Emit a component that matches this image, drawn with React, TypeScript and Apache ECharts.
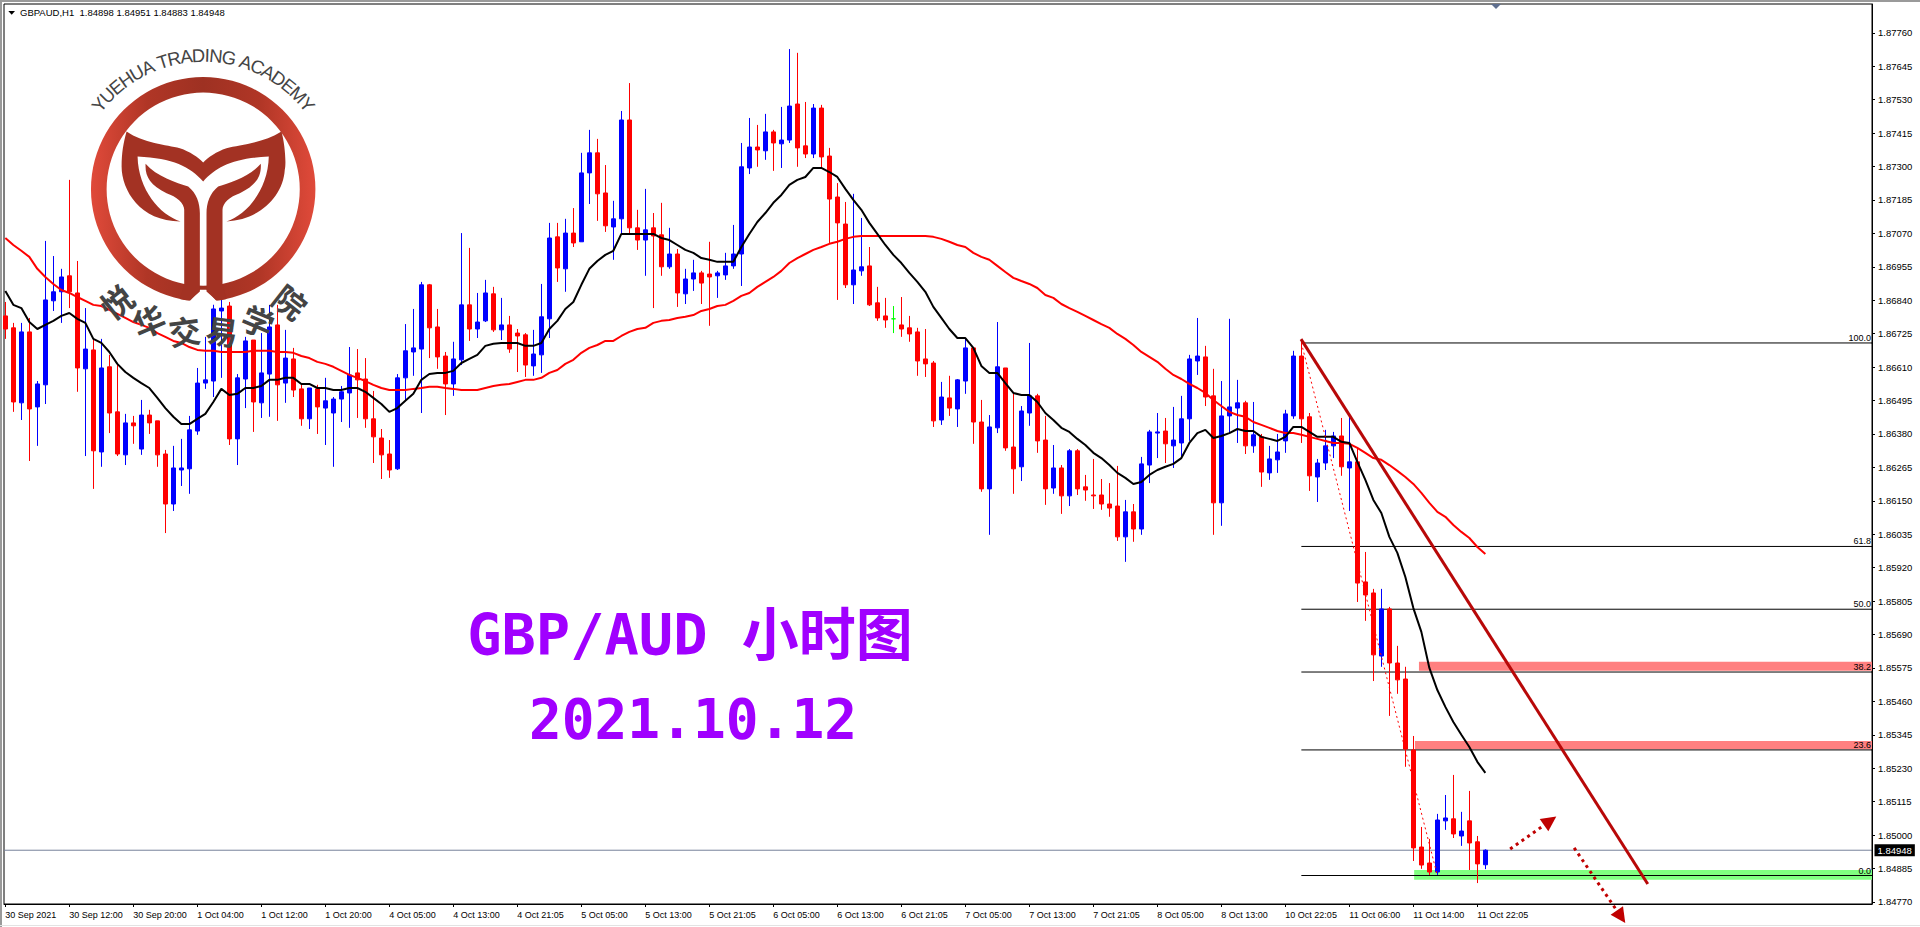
import React, { useEffect, useRef } from "react";
import * as echarts from "echarts";

// All chart values. Price = 1 + points / 100000.
const highPts = [
  86834,86762,86762,86779,86562,87044,86992,86948,87254,86975,
  86813,86707,86707,86652,86624,86449,86442,86497,86463,86425,
  86325,86339,86363,86442,86607,86714,86841,86841,86834,86586,
  86714,86703,86727,86824,86824,86738,86676,86549,86538,86549,
  86573,86507,86545,86679,86672,86641,86528,86397,86359,86586,
  86758,86810,86903,86896,86810,86662,86697,87071,87020,86865,
  86910,86886,86848,86786,86741,86727,86738,86896,87106,87106,
  87120,87157,87347,87426,87395,87305,87182,87491,87587,87151,
  87223,87140,87175,87089,87016,86948,86979,86941,87041,86941,
  87003,87099,87381,87467,87443,87481,87426,87505,87704,87691,
  87522,87515,87512,87364,87243,87178,87206,87123,87023,86886,
  86848,86820,86851,86786,86745,86741,86631,86559,86580,86569,
  86710,86679,86497,86445,86765,86607,86521,86476,86693,86518,
  86442,86342,86273,86328,86328,86239,86294,86225,86211,86270,
  86153,86139,86301,86394,86452,86435,86473,86511,86652,86779,
  86683,86604,86562,86776,86566,86494,86490,86380,86339,86380,
  86463,86666,86703,86452,86294,86394,86387,86435,86442,86332,
  85974,85847,85847,85785,85651,85579,85341,85028,84987,85073,
  85138,85207,85080,85152,84997,84951,
];
const lowPts = [
  86707,86456,86428,86287,86339,86483,86803,86762,86813,86525,
  86304,86191,86267,86383,86304,86273,86346,86308,86380,86267,
  86039,86115,86201,86174,86377,86535,86507,86573,86342,86273,
  86469,86387,86435,86439,86425,86487,86507,86408,86397,86380,
  86342,86267,86421,86401,86435,86401,86280,86225,86229,86256,
  86497,86580,86452,86641,86604,86445,86511,86617,86700,86710,
  86765,86731,86703,86659,86593,86576,86580,86590,86710,86903,
  86869,87023,87041,87171,87113,87075,86979,87068,87068,87013,
  86924,86813,86924,86948,86817,86827,86872,86827,86752,86848,
  86910,86948,86889,87274,87299,87323,87285,87295,87381,87299,
  87329,87329,87295,87037,86841,86882,86827,86924,86820,86769,
  86745,86727,86714,86697,86580,86576,86404,86411,86442,86404,
  86518,86346,86181,86033,86383,86322,86174,86218,86408,86315,
  86136,86174,86105,86132,86170,86150,86122,86119,86095,86012,
  85940,86009,86033,86211,86297,86280,86263,86294,86356,86583,
  86476,86033,86064,86383,86349,86311,86315,86198,86222,86246,
  86315,86432,86349,86184,86146,86256,86297,86236,86115,85802,
  85737,85530,85579,85410,85486,85235,84911,84884,84863,84863,
  85018,84990,84963,84880,84835,84883,
];
const openPts = [
  86786,86745,86487,86731,86473,86549,86838,86869,86924,86865,
  86604,86669,86318,86611,86456,86308,86418,86328,86445,86425,
  86311,86139,86256,86260,86390,86555,86562,86803,86820,86363,
  86569,86703,86487,86586,86755,86555,86638,86535,86432,86535,
  86469,86452,86500,86521,86590,86569,86432,86366,86311,86260,
  86573,86662,86672,86893,86748,86648,86552,86635,86824,86741,
  86769,86862,86738,86755,86727,86721,86614,86652,86776,87058,
  86948,87071,87041,87278,87347,87209,87092,87120,87460,87089,
  87047,87089,87065,86955,86999,86862,86913,86934,86930,86924,
  86927,86958,86999,87295,87367,87354,87419,87378,87391,87515,
  87371,87343,87501,87336,87195,87102,86893,86941,86958,86831,
  86786,86776,86755,86745,86731,86638,86624,86428,86504,86466,
  86562,86676,86421,86191,86401,86607,86335,86267,86452,86511,
  86359,86194,86263,86167,86322,86198,86170,86170,86139,86132,
  86026,86112,86053,86273,86383,86390,86339,86349,86432,86631,
  86645,86511,86143,86442,86469,86487,86339,86370,86246,86291,
  86356,86442,86648,86439,86232,86280,86339,86373,86263,86284,
  85871,85833,85616,85778,85592,85537,85293,84959,84904,84873,
  85049,85056,84997,85049,84977,84898,
];
const closePts = [
  86741,86490,86731,86466,86552,86841,86869,86920,86869,86607,
  86672,86322,86607,86452,86311,86418,86408,86445,86418,86308,
  86139,86263,86263,86394,86555,86566,86810,86813,86363,86573,
  86700,86490,86590,86748,86549,86641,86531,86432,86538,86473,
  86494,86500,86525,86583,86566,86432,86370,86308,86256,86573,
  86666,86676,86893,86745,86645,86552,86638,86824,86741,86765,
  86865,86738,86755,86672,86717,86617,86655,86783,87054,86951,
  87071,87037,87278,87347,87206,87096,87120,87460,87089,87047,
  87082,87061,86955,86999,86865,86913,86934,86899,86920,86934,
  86958,86999,87299,87367,87357,87419,87381,87391,87508,87364,
  87343,87501,87333,87188,87106,86893,86944,86955,86824,86779,
  86772,86776,86741,86724,86631,86621,86425,86507,86469,86566,
  86676,86421,86191,86404,86611,86332,86260,86459,86511,86356,
  86191,86263,86167,86322,86191,86187,86167,86139,86125,86026,
  86112,86053,86277,86387,86387,86346,86359,86432,86638,86648,
  86507,86143,86442,86473,86487,86339,86377,86249,86294,86318,
  86449,86648,86432,86236,86280,86339,86373,86267,86284,85867,
  85826,85620,85778,85592,85534,85296,84956,84897,84873,85052,
  85059,85004,85014,84973,84901,84948,
];
const blackMaPts = [
  86872,86824,86813,86765,86741,86755,86769,86786,86796,86776,
  86762,86707,86693,86662,86621,86593,86573,86555,86538,86504,
  86469,86439,86414,86414,86432,86449,86490,86535,86514,86518,
  86538,86538,86545,86566,86566,86573,86573,86552,86552,86538,
  86538,86531,86531,86538,86538,86525,86504,86483,86456,86469,
  86494,86518,86566,86586,86590,86590,86597,86624,86638,86652,
  86683,86690,86693,86693,86693,86683,86683,86693,86741,86769,
  86810,86834,86893,86948,86975,86996,87010,87068,87068,87068,
  87068,87068,87054,87047,87030,87013,87003,86985,86979,86972,
  86972,86972,87023,87068,87109,87140,87175,87202,87237,87254,
  87264,87295,87295,87281,87264,87223,87185,87151,87106,87068,
  87030,86996,86968,86934,86903,86869,86817,86779,86741,86710,
  86710,86676,86614,86590,86590,86555,86521,86514,86514,86490,
  86452,86428,86401,86387,86363,86342,86315,86297,86273,86246,
  86229,86208,86215,86239,86256,86267,86277,86297,86349,86383,
  86394,86366,86373,86383,86397,86390,86390,86370,86363,86356,
  86370,86404,86404,86387,86370,86370,86370,86353,86349,86284,
  86222,86153,86108,86026,85971,85888,85781,85699,85575,85499,
  85441,85389,85345,85303,85252,85214,
];
const redMaPts = [
  87054,87030,87010,86989,86948,86920,86896,86875,86865,86851,
  86838,86824,86820,86807,86793,86779,86765,86755,86745,86727,
  86714,86700,86693,86679,86669,86666,86666,86662,86662,86662,
  86662,86666,86666,86666,86662,86662,86659,86648,86641,86628,
  86621,86611,86597,86583,86573,86562,86549,86538,86531,86531,
  86531,86535,86538,86542,86542,86538,86535,86531,86531,86531,
  86538,86545,86549,86552,86559,86566,86566,86573,86590,86600,
  86621,86635,86659,86676,86686,86700,86700,86717,86731,86741,
  86745,86762,86769,86772,86779,86783,86789,86803,86810,86820,
  86824,86838,86855,86865,86886,86903,86920,86941,86968,86985,
  86999,87013,87023,87034,87041,87051,87058,87061,87061,87061,
  87061,87061,87061,87061,87061,87061,87058,87051,87041,87030,
  87023,87003,86989,86979,86958,86937,86917,86906,86896,86882,
  86858,86848,86827,86813,86800,86786,86772,86758,86745,86724,
  86707,86686,86662,86645,86628,86604,86583,86569,86552,86538,
  86521,86497,86476,86456,86445,86439,86421,86411,86401,86390,
  86383,86383,86377,86370,86363,86356,86349,86349,86346,86332,
  86315,86297,86291,86273,86253,86232,86208,86177,86143,86112,
  86095,86067,86043,86022,85991,85967,
];
const xTickLabels = [
  "30 Sep 2021","30 Sep 12:00","30 Sep 20:00","1 Oct 04:00","1 Oct 12:00","1 Oct 20:00",
  "4 Oct 05:00","4 Oct 13:00","4 Oct 21:05","5 Oct 05:00","5 Oct 13:00","5 Oct 21:05",
  "6 Oct 05:00","6 Oct 13:00","6 Oct 21:05","7 Oct 05:00","7 Oct 13:00","7 Oct 21:05",
  "8 Oct 05:00","8 Oct 13:00","10 Oct 22:05","11 Oct 06:00","11 Oct 14:00","11 Oct 22:05",
];
const yTickLabels = [
  "1.87760","1.87645","1.87530","1.87415","1.87300","1.87185","1.87070","1.86955","1.86840",
  "1.86725","1.86610","1.86495","1.86380","1.86265","1.86150","1.86035","1.85920","1.85805",
  "1.85690","1.85575","1.85460","1.85345","1.85230","1.85115","1.85000","1.84885","1.84770",
];
const fibNames = ["100.0", "61.8", "50.0", "38.2", "23.6", "0.0"];
const fibPts = [86693, 85993, 85777, 85561, 85293, 84861];
const currentPricePts = 84948;
const zonePts = [
  { from: 176.7, top: 85596, bottom: 85565, color: "#ff8080" },
  { from: 176.2, top: 85324, bottom: 85295, color: "#ff8080" },
  { from: 176.1, top: 84880, bottom: 84846, color: "#80ff80" },
];
const trendLine = [[161.96, 86706], [205.3, 84832]];
const fibBase = [[162, 86693], [179, 84861]];
const upArrow = [[188.1, 84952], [193.1, 85049]];
const downArrow = [[196.1, 84956], [201.96, 84719]];

const price = (pts: number) => 1 + pts / 100000;
const X_MIN = -0.166;
const X_MAX = 233.33;
const Y_MIN = 1.84763;
const Y_MAX = 1.87859;
const LABEL_FONT = "'Liberation Sans', sans-serif";

echarts.graphic.registerShape("logoTail", echarts.graphic.extendPath(
  "M200,305 C250,340 320,345 360,355 C390,365 415,382 430,398 C445,382 470,365 500,355 C540,345 610,340 665,305 " +
  "C675,340 680,400 675,420 C670,500 600,570 500,575 C560,555 625,480 627,380 C520,385 470,410 430,455 " +
  "C390,410 340,385 233,380 C235,480 300,555 362,575 C240,575 185,480 185,410 C185,370 190,340 200,305 Z", {}));
echarts.graphic.registerShape("logoLeafLeft", echarts.graphic.extendPath(
  "M257,402 C290,440 350,460 385,470 C410,490 420,520 420,550 L420,785 L392,810 C385,813 378,812 360,808 " +
  "L373,762 L373,540 C373,520 350,500 320,490 C270,465 255,440 257,402 Z", {}));
echarts.graphic.registerShape("logoLeafRight", echarts.graphic.extendPath(
  "M603,402 C570,440 510,460 475,470 C450,490 440,520 440,550 L440,785 L468,810 C475,813 482,812 500,808 " +
  "L488,762 L488,540 C488,520 510,500 540,490 C590,465 605,440 603,402 Z", {}));

function buildLogo() {
  const logoFill = () => new echarts.graphic.LinearGradient(0, 0, 1, 0, [
    { offset: 0, color: "#e04a3a" }, { offset: 0.25, color: "#b03626" },
    { offset: 0.5, color: "#9e3122" }, { offset: 0.75, color: "#b03626" }, { offset: 1, color: "#e04a3a" },
  ]);
  const cx = 203.3, cy = 189.3;
  const items: any[] = [{
    type: "group", x: 60, y: 30, scaleX: 1 / 3, scaleY: 1 / 3, z: 50,
    children: [
      { type: "ring", z: 50, shape: { cx: 430, cy: 478, r: 337, r0: 290 }, style: { fill: logoFill() } },
      { type: "polygon", z: 51, shape: { points: [[420, 780], [440, 780], [480, 825], [380, 825]] }, style: { fill: "#fff" } },
      { type: "logoTail", z: 52, style: { fill: "#a33223" } },
      { type: "logoLeafLeft", z: 52, style: { fill: "#a33223" } },
      { type: "logoLeafRight", z: 52, style: { fill: "#a33223" } },
    ],
  }];
  const title = "YUEHUA TRADING ACADEMY";
  const font = "18.5px 'Liberation Sans'";
  const ctx = document.createElement("canvas").getContext("2d")!;
  ctx.font = font;
  const widths = Array.from(title).map((c) => ctx.measureText(c).width);
  const total = widths.reduce((a, b) => a + b, 0);
  const span = (106.6 * Math.PI) / 180;
  let run = 0;
  Array.from(title).forEach((ch, k) => {
    const a = -span / 2 + (span * (run + widths[k] / 2)) / total;
    run += widths[k];
    items.push({
      type: "text", z: 53, x: cx + 134 * Math.sin(a), y: cy - 134 * Math.cos(a), rotation: -a,
      style: { text: ch, font, fill: "#444", align: "center", verticalAlign: "middle" },
    });
  });
  Array.from("悦华交易学院").forEach((ch, k) => {
    const a = ((-38 + k * 15.2) * Math.PI) / 180;
    items.push({
      type: "text", z: 53, x: cx + 142 * Math.sin(a), y: cy + 142 * Math.cos(a), rotation: -a,
      style: { text: ch, font: "bold 32px 'Noto Sans CJK SC'", fill: "#444", align: "center", verticalAlign: "middle" },
    });
  });
  return items;
}

const straight = (name: string, pts: number[][], color: string, width: number, type: any, z: number, extra: any = {}) => ({
  name, type: "line", z, silent: true, symbol: "none", showSymbol: false, clip: true,
  data: pts.map((p) => [p[0], price(p[1])]),
  lineStyle: { color, width, type },
  ...extra,
});

const arrow = (name: string, pts: number[][], rotate: number) => ({
  name, type: "line", z: 6, silent: true, clip: false, showSymbol: true, symbol: "none",
  data: [
    [pts[0][0], price(pts[0][1])],
    {
      value: [pts[1][0], price(pts[1][1])], symbol: "triangle", symbolSize: [15, 15], symbolRotate: rotate,
      itemStyle: { color: "#c00000" },
    },
  ],
  lineStyle: { color: "#c00000", width: 3, type: [3, 4] },
});

const endMark = (x: number, y: number, label: any) => ({
  value: [x, y], symbol: "circle", symbolSize: 1, itemStyle: { color: "#000", opacity: 1 }, label,
});

export default function App() {
  const ref = useRef<HTMLDivElement>(null);
  useEffect(() => {
    const chart = echarts.init(ref.current!, undefined, { renderer: "svg", width: 1920, height: 927 });
    const candles = openPts.map((o, i) => [i, price(o), price(closePts[i]), price(lowPts[i]), price(highPts[i])]);
    const option: any = {
      animation: false,
      backgroundColor: "#fff",
      grid: { left: 4, top: 4, width: 1868, height: 900, show: true, borderColor: "#000", borderWidth: 1, backgroundColor: "#fff" },
      xAxis: {
        type: "value", min: X_MIN, max: X_MAX, position: "bottom",
        splitLine: { show: false },
        axisLine: { show: true, onZero: false, lineStyle: { color: "#000", width: 1 } },
        axisTick: { show: true, length: 3, lineStyle: { color: "#000" }, customValues: xTickLabels.map((_, k) => k * 8) },
        axisLabel: {
          show: true, margin: 6, align: "left", color: "#000", fontFamily: LABEL_FONT, fontSize: 9,
          customValues: xTickLabels.map((_, k) => k * 8),
          formatter: (v: number) => xTickLabels[Math.round(v / 8)],
        },
      },
      yAxis: {
        type: "value", min: Y_MIN, max: Y_MAX, position: "right", scale: true,
        splitLine: { show: false },
        axisLine: { show: true, onZero: false, lineStyle: { color: "#000", width: 1 } },
        axisTick: { show: true, length: 3, lineStyle: { color: "#000" }, customValues: yTickLabels.map(Number) },
        axisLabel: {
          show: true, margin: 6, color: "#000", fontFamily: LABEL_FONT, fontSize: 9.5, align: "left",
          customValues: yTickLabels.map(Number),
          formatter: (v: number) => v.toFixed(5),
        },
      },
      series: [
        {
          name: "Zones", type: "line", z: 1, silent: true, data: [],
          markArea: {
            silent: true, z: 1,
            data: zonePts.map((zone) => [
              { coord: [zone.from, price(zone.top)], itemStyle: { color: zone.color, opacity: 1 } },
              { coord: [X_MAX, price(zone.bottom)] },
            ]),
          },
        },
        {
          name: "GBPAUD,H1", type: "candlestick", z: 3, silent: true, barWidth: 4, clip: true, large: false,
          encode: { x: 0, y: [1, 2, 3, 4] },
          itemStyle: {
            color: "#0000ff", color0: "#ff0000", borderColor: "#0000ff", borderColor0: "#ff0000",
            borderColorDoji: "#00ff00", borderWidth: 1,
          },
          data: candles,
        },
        ...fibNames.map((name, k) => ({
          name: "Fib " + name, type: "line", z: 2, silent: true, clip: false, showSymbol: true, symbol: "none",
          data: [
            [162, price(fibPts[k])],
            endMark(X_MAX, price(fibPts[k]), {
              show: true, formatter: name, position: "top", distance: 0, align: "right", offset: [-1, 0],
              color: "#000", fontFamily: LABEL_FONT, fontSize: 9,
            }),
          ],
          lineStyle: { color: "#000", width: 1 },
        })),
        {
          name: "Bid", type: "line", z: 2, silent: true, clip: false, showSymbol: true, symbol: "none",
          data: [
            [X_MIN, price(currentPricePts)],
            endMark(X_MAX, price(currentPricePts), {
              show: true, formatter: price(currentPricePts).toFixed(5), position: "right", distance: 2,
              color: "#fff", backgroundColor: "#000", padding: [1, 3, 1, 3], fontFamily: LABEL_FONT, fontSize: 9.5,
            }),
          ],
          lineStyle: { color: "#76819a", width: 1 },
        },
        {
          name: "MA slow", type: "line", z: 4, silent: true, symbol: "none", showSymbol: false,
          data: redMaPts.map((v, i) => [i, price(v)]), lineStyle: { color: "#ff0000", width: 2 },
        },
        {
          name: "MA fast", type: "line", z: 4, silent: true, symbol: "none", showSymbol: false,
          data: blackMaPts.map((v, i) => [i, price(v)]), lineStyle: { color: "#000", width: 2 },
        },
        straight("Fib base", fibBase, "#ff0000", 1, [2, 3], 5),
        straight("Trend", trendLine, "#b80808", 3, "solid", 6, { clip: false }),
        arrow("Arrow up", upArrow, -55),
        arrow("Arrow down", downArrow, -145.7),
      ],
      graphic: [
        { type: "rect", z: 100, shape: { x: 0, y: 0, width: 1920, height: 2 }, style: { fill: "#9a9a9a" } },
        { type: "rect", z: 100, shape: { x: 0, y: 0, width: 2, height: 927 }, style: { fill: "#9a9a9a" } },
        { type: "rect", z: 100, shape: { x: 0, y: 925, width: 1920, height: 1 }, style: { fill: "#e3e3e3" } },
        { type: "polygon", z: 100, shape: { points: [[8.3, 11], [15, 11], [11.7, 14.7]] }, style: { fill: "#000" } },
        { type: "polygon", z: 100, shape: { points: [[1491, 4], [1501, 4], [1496, 9]] }, style: { fill: "#5f6f8f" } },
        {
          type: "text", z: 100, x: 20, y: 12.5,
          style: { text: "GBPAUD,H1  1.84898 1.84951 1.84883 1.84948", font: "9.5px 'Liberation Sans'", fill: "#000", verticalAlign: "middle" },
        },
        ...buildLogo(),
        {
          type: "text", z: 60, x: 690, y: 635,
          style: {
            text: "GBP/AUD 小时图", fill: "#a000ff", align: "center", verticalAlign: "middle",
            font: "bold 57px 'DejaVu Sans Mono', 'Noto Sans CJK SC'",
          },
        },
        {
          type: "text", z: 60, x: 693, y: 719,
          style: {
            text: "2021.10.12", fill: "#a000ff", align: "center", verticalAlign: "middle",
            font: "bold 54.5px 'DejaVu Sans Mono', 'Noto Sans CJK SC'",
          },
        },
      ],
    };
    chart.setOption(option);
    return () => chart.dispose();
  }, []);
  return <div ref={ref} style={{ position: "absolute", left: 0, top: 0, width: 1920, height: 927 }} />;
}
